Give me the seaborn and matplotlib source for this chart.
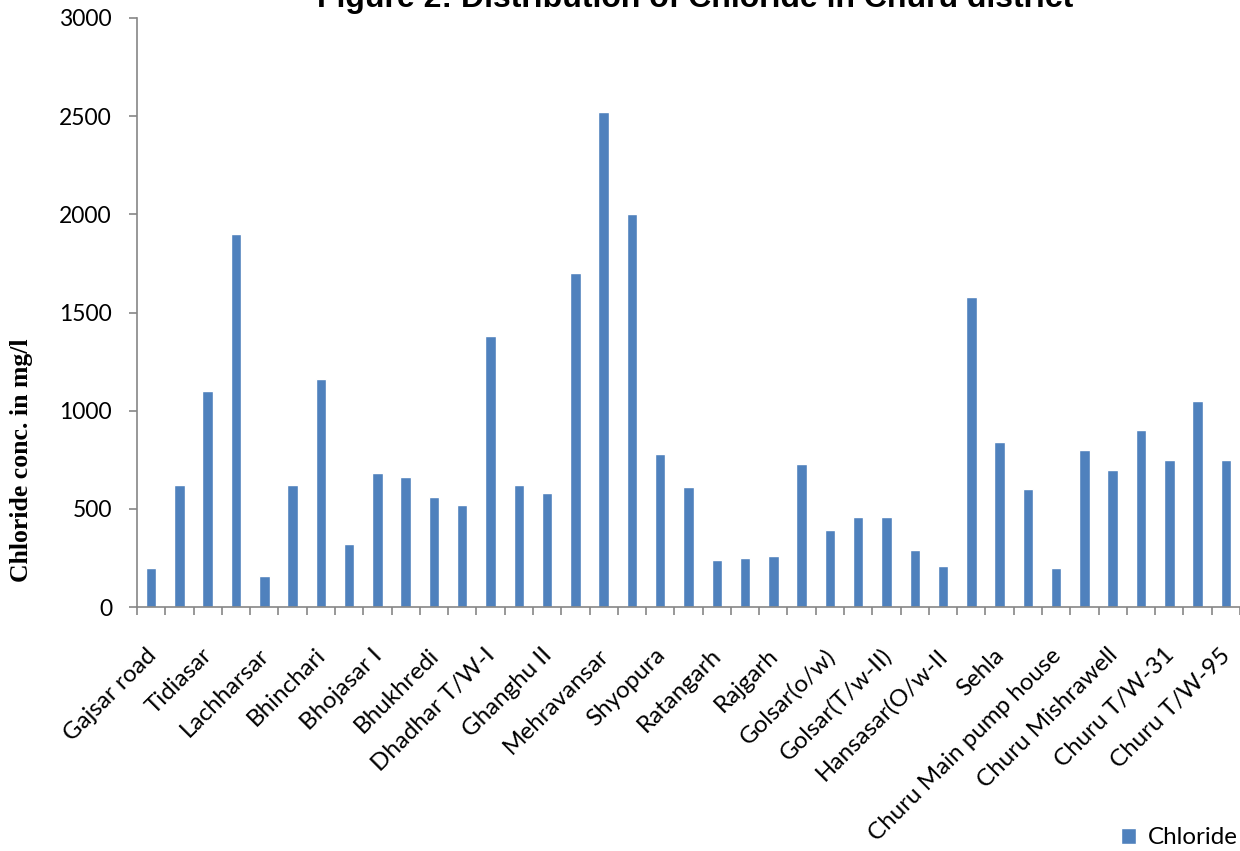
import matplotlib
matplotlib.use("Agg")
import matplotlib.pyplot as plt
import matplotlib.transforms as mtrans
import seaborn as sns
import pandas as pd
import numpy as np

# ---- data ----
site_labels = ["Gajsar road", "Tidiasar", "Lachharsar", "Bhinchari", "Bhojasar I",
               "Bhukhredi", "Dhadhar T/W-I", "Ghanghu II", "Mehravansar", "Shyopura",
               "Ratangarh", "Rajgarh", "Golsar(o/w)", "Golsar(T/w-II)", "Hansasar(O/w-II",
               "Sehla", "Churu Main pump house", "Churu Mishrawell", "Churu T/W-31", "Churu T/W-95"]
chloride = [200, 620, 1100, 1900, 160, 620, 1160, 320, 680, 660,
            560, 520, 1380, 620, 580, 1700, 2520, 2000, 780, 610,
            240, 250, 260, 730, 390, 460, 460, 290, 210, 1580,
            840, 600, 200, 800, 700, 900, 750, 1050, 750]
y_ticks = [0, 500, 1000, 1500, 2000, 2500, 3000]

sample_no = list(range(len(chloride)))
df = pd.DataFrame({"sample": sample_no, "Chloride": chloride})

sns.set_style("ticks")
plt.rcParams["font.family"] = ["Lato", "DejaVu Sans"]
plt.rcParams["text.color"] = "black"
plt.rcParams["xtick.labelcolor"] = "black"
plt.rcParams["ytick.labelcolor"] = "black"

W, H = 1240, 851
fig = plt.figure(figsize=(W / 100, H / 100), dpi=100)
ax = fig.add_axes([137 / W, 1 - 607 / H, (W - 137) / W, (607 - 18) / H])

sns.barplot(data=df, x="sample", y="Chloride", color="#4F81BD", width=0.37,
            saturation=1, label="Chloride", ax=ax, legend=False)

ax.set_xlim(-0.5, len(chloride) - 0.5)
ax.set_ylim(0, 3000)
ax.set_yticks(y_ticks)
ax.set_yticklabels([str(v) for v in y_ticks])

# labels on every other bar, tick marks between categories
ax.set_xticks(sample_no[::2])
ax.set_xticklabels(site_labels, rotation=45, ha="right", va="top",
                   rotation_mode="anchor")
ax.set_xticks(np.arange(-0.5, len(chloride), 1.0), minor=True)
ax.tick_params(axis="x", which="major", length=0, pad=27, labelsize=17.4)
ax.tick_params(axis="x", which="minor", length=6, width=1.2, color="#868686",
               direction="out")
ax.tick_params(axis="y", length=6, width=1.2, color="#868686", direction="out",
               labelsize=16.5, pad=12)
shift = mtrans.ScaledTranslation(-6 / 100, 0, fig.dpi_scale_trans)
for lab in ax.get_xticklabels():
    lab.set_transform(lab.get_transform() + shift)

ax.set_xlabel("")
ax.set_ylabel("")
for s in ["top", "right"]:
    ax.spines[s].set_visible(False)
for s in ["left", "bottom"]:
    ax.spines[s].set_color("#868686")
    ax.spines[s].set_linewidth(1.2)

fig.text(22 / W, 1 - 460 / H, "Chloride conc. in mg/l", rotation=90,
         ha="center", va="center", family="Liberation Serif",
         fontweight="bold", fontsize=18.5)

fig.text(695 / W, 1 - 7 / H, "Figure 2: Distribution of Chloride in Churu district",
         ha="center", va="baseline", family="Liberation Sans",
         fontweight="bold", fontsize=23)

handles, labels = ax.get_legend_handles_labels()
fig.legend(handles, labels, loc="center right",
           bbox_to_anchor=(1238 / W, 1 - 838 / H),
           frameon=False, fontsize=17.4, handlelength=0.62, handleheight=0.62,
           handletextpad=0.5, borderaxespad=0, borderpad=0)

fig.savefig("out.png", dpi=100)
